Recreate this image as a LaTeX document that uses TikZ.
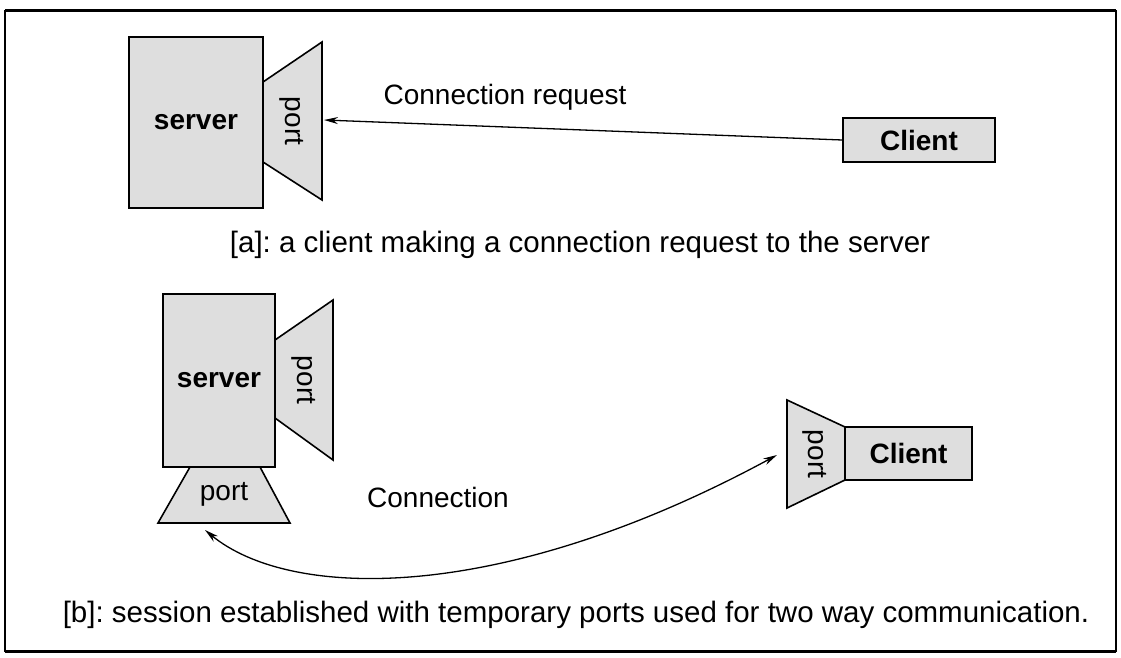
\documentclass[tikz,border=0pt]{standalone}
\usepackage{fontspec}
\setmainfont{Liberation Sans}
\usetikzlibrary{arrows.meta}
\frenchspacing
\begin{document}
\begin{tikzpicture}[x=1pt,y=-1pt,
  >={Stealth[length=14pt,width=7pt]},
  box/.style={draw=black, line width=1.6pt, fill=black!13},
  lbl/.style={font=\fontsize{28}{30}\selectfont, inner sep=0pt},
  captiontext/.style={font=\fontsize{29.5}{31}\selectfont, inner sep=0pt},
  blbl/.style={font=\fontsize{28}{30}\selectfont\bfseries, inner sep=0pt},
  link/.style={line width=1.3pt},
]
\useasboundingbox (0,0) rectangle (1121,658);
\fill[white] (0,0) rectangle (1121,658);

% outer frame
\draw[line width=1.2pt] (5,11) rectangle (1116,651);
\draw[line width=3pt] (5,11) -- (1116,11);
\draw[line width=3pt] (5,651) -- (1116,651);

% ---------- [a] connection request ----------
\node[box, blbl, minimum width=134pt, minimum height=171pt] (srvA) at (196,122.5) {server};
\filldraw[box] (263,82) -- (322,42) -- (322,200) -- (263,162) -- cycle;
\node[lbl, rotate=-90] (portA) at (292,121) {port};
\coordinate (portAtip) at (324,120);

\node[box, blbl, minimum width=152pt, minimum height=44pt] (cliA) at (919,140) {Client};
\draw[link, ->] (cliA.west) -- (portAtip);
\node[lbl] (req) at (505,97) {Connection request};

\node[captiontext] (capA) at (580,245) {[a]: a client making a connection request to the server};

% ---------- [b] established session ----------
\node[box, blbl, minimum width=112pt, minimum height=173pt] (srvB) at (219,380.5) {server};
\filldraw[box] (275,340) -- (333,300) -- (333,460) -- (275,418) -- cycle;
\node[lbl, rotate=-90] (portB) at (304,380) {port};
\filldraw[box] (190,467) -- (260,467) -- (290,523) -- (158,523) -- cycle;
\node[lbl] (portC) at (224,494) {port};

\filldraw[box] (787,400) -- (845,427) -- (845,480) -- (787,508) -- cycle;
\node[lbl, rotate=-90] (portD) at (815,454) {port};
\node[box, blbl, minimum width=127pt, minimum height=53pt] (cliB) at (908.5,453.5) {Client};

\coordinate (portCtip) at (205,530);
\coordinate (portDtip) at (777,455);
\draw[link, <->] (portCtip) .. controls (290,600) and (500,605) .. (portDtip);
\node[lbl] (conn) at (438,497) {Connection};

\node[captiontext] (capB) at (576,615) {[b]: session established with temporary ports used for two way communication.};
\end{tikzpicture}
\end{document}
